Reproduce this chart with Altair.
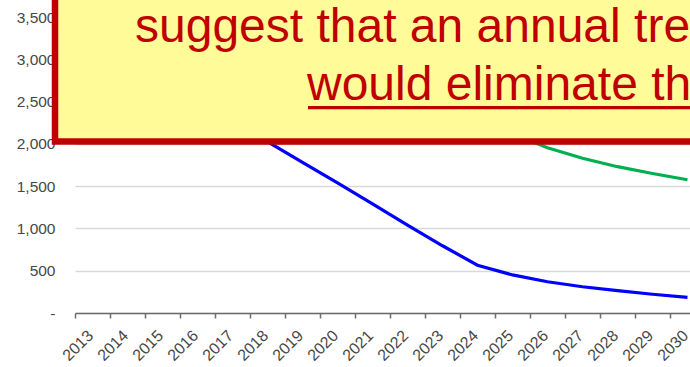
import altair as alt
import pandas as pd

# Projected yearly counts for the two scenarios
years = list(range(2013, 2031))
series_blue = [3150, 3050, 2900, 2700, 2400, 2025, 1780, 1540, 1290, 1040,
               795, 565, 450, 370, 310, 265, 222, 185]
series_green = [3450, 3400, 3340, 3270, 3190, 3100, 2990, 2870, 2740, 2600,
                2450, 2300, 2120, 1955, 1830, 1730, 1650, 1575]
series_names = ["Series 1", "Series 2"]
series_colors = ["#0000FF", "#00B050"]
y_ticks = [0, 500, 1000, 1500, 2000, 2500, 3000, 3500]

callout_line1 = "suggest that an annual tre"
callout_line2 = "would eliminate th"

rows = []
for yr, b, g in zip(years, series_blue, series_green):
    rows.append({"year": yr, "series": series_names[0], "value": b})
    rows.append({"year": yr, "series": series_names[1], "value": g})
df = pd.DataFrame(rows)

PLOT_W = 615
PLOT_H = 296
STEP = PLOT_W / (2030.5 - 15 / 35 - 2012.5)  # pixels per year

x_enc = alt.X(
    "year:Q",
    scale=alt.Scale(domain=[2012.5, 2030.5 - 15 / 35], nice=False, zero=False),
    axis=alt.Axis(
        values=years,
        format="d",
        title=None,
        grid=False,
        labelAngle=315,
        tickOffset=-STEP / 2,
        labelOffset=STEP / 2 - 8,
        tickSize=5,
        tickWidth=1.5,
        tickColor="#6b6b6b",
        domainColor="#6b6b6b",
        domainWidth=1.5,
        labelColor="#474747",
        labelFont="Liberation Sans",
        labelFontSize=16,
        labelPadding=9,
        labelOverlap=False,
        labelFlush=False,
        zindex=0,
    ),
)

y_enc = alt.Y(
    "value:Q",
    scale=alt.Scale(domain=[0, 3500], nice=False),
    axis=alt.Axis(
        values=y_ticks,
        title=None,
        domain=False,
        ticks=False,
        tickSize=0,
        labelPadding=20,
        labelExpr="datum.value == 0 ? '-' : format(datum.value, ',')",
        labelColor="#474747",
        labelFont="Liberation Sans",
        labelFontSize=15.5,
        gridColor="#d9d9d9",
        gridWidth=1.5,
        zindex=0,
    ),
)

lines = alt.Chart(df).mark_line(strokeWidth=3.2).encode(
    x=x_enc,
    y=y_enc,
    color=alt.Color(
        "series:N",
        scale=alt.Scale(domain=series_names, range=series_colors),
        legend=None,
    ),
)

one = alt.Data(values=[{}])

callout_box = alt.Chart(one).mark_rect(
    fill="#FFFB99", stroke="#C00000", strokeWidth=6.5
).encode(
    x=alt.value(-20), x2=alt.value(660),
    y=alt.value(-60), y2=alt.value(124.6),
)

callout_text1 = alt.Chart(one).mark_text(
    align="left", baseline="alphabetic", font="Liberation Sans",
    fontSize=48, color="#C00000",
).encode(x=alt.value(60), y=alt.value(24.7), text=alt.value(callout_line1))

callout_text2 = alt.Chart(one).mark_text(
    align="left", baseline="alphabetic", font="Liberation Sans",
    fontSize=48, color="#C00000",
).encode(x=alt.value(232), y=alt.value(83), text=alt.value(callout_line2))

underline = alt.Chart(one).mark_rule(color="#C00000", strokeWidth=3.3).encode(
    x=alt.value(233), x2=alt.value(700), y=alt.value(90.7),
)

chart = (
    alt.layer(lines, callout_box, callout_text1, callout_text2, underline)
    .properties(
        width=PLOT_W,
        height=PLOT_H,
        autosize=alt.AutoSizeParams(type="none"),
        padding={"left": 75, "top": 17, "right": 0, "bottom": 54},
        background="white",
    )
    .configure_view(stroke=None)
)

chart.save("out.html", embed_options={"renderer": "svg", "actions": False})
